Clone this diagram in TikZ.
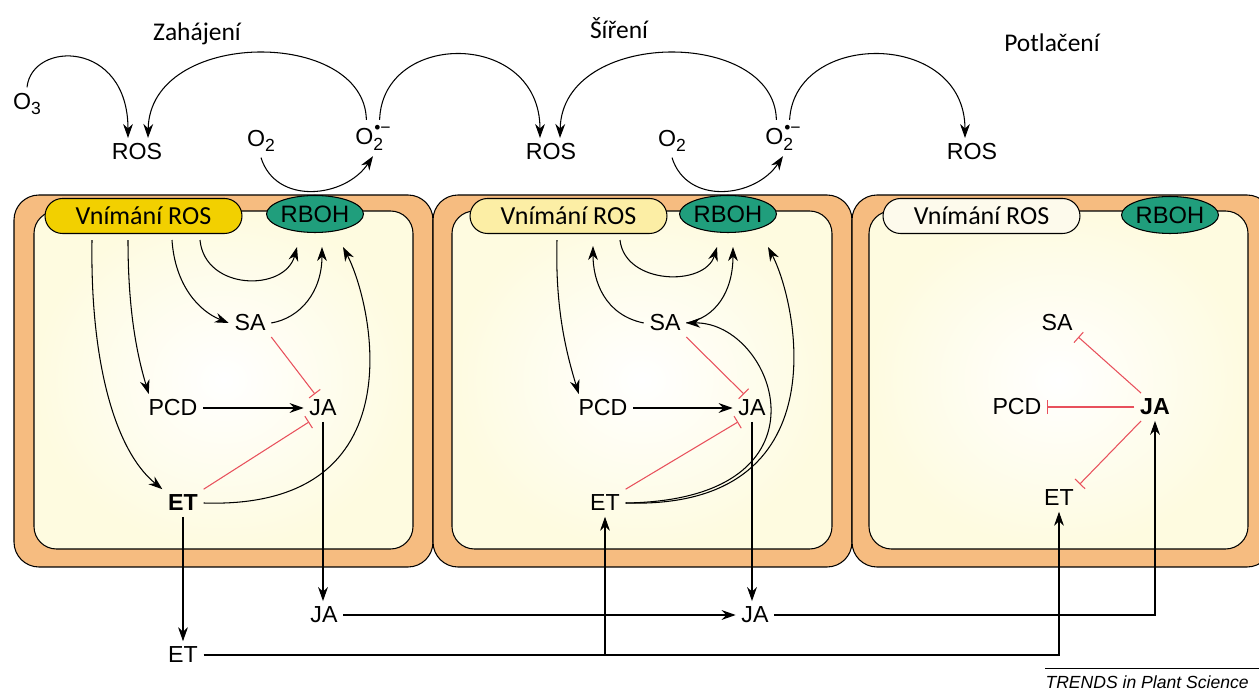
\documentclass[tikz,border=0pt]{standalone}
\usepackage{fontspec}
\setmainfont{Liberation Sans}
\newfontfamily\calfont{Carlito}
\usepackage{tikz}
\usetikzlibrary{arrows.meta,shapes.geometric}
\definecolor{wallorange}{RGB}{246,188,128}
\definecolor{cream}{RGB}{254,251,224}
\definecolor{gold}{RGB}{242,208,0}
\definecolor{paleyellow}{RGB}{252,238,165}
\definecolor{offwhite}{RGB}{253,250,236}
\definecolor{rbohgreen}{RGB}{32,158,124}
\definecolor{inhred}{RGB}{232,80,92}
\newcommand{\otwo}{O\raisebox{-0.45ex}{\fontsize{10}{10}\selectfont 2}}
\newcommand{\othree}{O\raisebox{-0.45ex}{\fontsize{10}{10}\selectfont 3}}
\newcommand{\superox}{O\rlap{\raisebox{-0.45ex}{\fontsize{10}{10}\selectfont 2}}\raisebox{0.9ex}{\fontsize{10}{10}\selectfont\kern0.5pt •−}}
\begin{document}
\begin{tikzpicture}[x=0.02cm,y=-0.02cm,>={Stealth[length=8pt,width=5.6pt]},line width=0.6pt,
 lab/.style={font=\fontsize{13.2}{15}\selectfont,inner sep=3pt},
 phase/.style={font=\calfont\fontsize{14.5}{16}\selectfont},
 recep/.style={draw,rounded corners=0.35cm,minimum width=3.94cm,minimum height=0.7cm,inner sep=0pt,font=\calfont\fontsize{14.8}{16}\selectfont},
 rboh/.style={ellipse,draw,fill=rbohgreen,minimum width=1.74cm,minimum height=0.74cm,inner sep=0pt,font=\fontsize{13.5}{15}\selectfont},
 inh/.style={draw=inhred,-{Bar[width=8pt]}}]
\useasboundingbox (0,0) rectangle (1259,692);
\clip (0,0) rectangle (1259,692);

%Cells
\draw[fill=wallorange,rounded corners=0.5cm] (14,195) rectangle (433,567); \shadedraw[inner color=white,outer color=cream,rounded corners=0.45cm] (34,211) rectangle (413,549);
\draw[fill=wallorange,rounded corners=0.5cm] (433,195) rectangle (852,567); \shadedraw[inner color=white,outer color=cream,rounded corners=0.45cm] (452,211) rectangle (832,549);
\draw[fill=wallorange,rounded corners=0.5cm] (852,195) rectangle (1272,567); \shadedraw[inner color=white,outer color=cream,rounded corners=0.45cm] (869,211) rectangle (1248,549);

\node[recep,fill=gold] (recA) at (143.5,216) {Vnímání ROS}; \node[rboh] (rbohA) at (315,214) {RBOH};
\node[recep,fill=paleyellow] (recB) at (568.5,216) {Vnímání ROS}; \node[rboh] (rbohB) at (728,214) {RBOH};
\node[recep,fill=offwhite] (recC) at (981.5,216) {Vnímání ROS}; \node[rboh] (rbohC) at (1170,215) {RBOH};

%Top
\node[phase] (zah) at (197,34) {Zahájení}; \node[phase] (sir) at (619,28) {Šíření}; \node[phase] (pot) at (1052,43) {Potlačení};
\node[lab] (othr) at (27,104) {\othree};
\node[lab] (rosA) at (137,152) {ROS}; \node[lab] (rosB) at (551,152) {ROS}; \node[lab] (rosC) at (972,152) {ROS};
\node[lab] (otwoA) at (261,141) {\otwo}; \node[lab] (supA) at (373,138) {\superox};
\node[lab] (otwoB) at (672,141) {\otwo}; \node[lab] (supB) at (783,138) {\superox};

\draw[->] (othr.north) .. controls +(5,-47) and +(0,-98) .. ([xshift=-0.18cm]rosA.north);
\draw[->] (supA.110) .. controls +(-2,-92) and +(2,-110) .. ([xshift=0.22cm]rosA.north);
\draw[->] (supA.70) .. controls +(3,-90) and +(0,-108) .. ([xshift=-0.22cm]rosB.north);
\draw[->] (supB.110) .. controls +(-2,-92) and +(2,-110) .. ([xshift=0.18cm]rosB.north);
\draw[->] (supB.70) .. controls +(5,-90) and +(0,-108) .. ([xshift=-0.14cm]rosC.north);
\draw[->] (otwoA.south) .. controls +(15,48) and +(-28,42) .. (supA.south);
\draw[->] (otwoB.south) .. controls +(15,48) and +(-28,42) .. (supB.south);

%First cell
\node[lab] (saA) at (250,323) {SA}; \node[lab] (pcdA) at (173,408) {PCD}; \node[lab] (jaA) at (323,408) {JA}; \node[lab] (etA) at (183,503) {\textbf{ET}};
\draw[->] ([xshift=-1.03cm,yshift=-0.12cm]recA.south) .. controls +(-2,120) and +(-48,-39) .. (etA.north west);
\draw[->] ([xshift=-0.31cm,yshift=-0.12cm]recA.south) .. controls +(0,70) and +(-12,-40) .. (pcdA.150);
\draw[->] ([xshift=0.57cm,yshift=-0.12cm]recA.south) .. controls +(3,45) and +(-30,-12) .. (saA.west);
\draw[->] ([xshift=1.13cm,yshift=-0.12cm]recA.south) .. controls +(5,51) and +(-12,45) .. ([xshift=-0.36cm,yshift=-0.28cm]rbohA.south);
\draw[->] (saA.east) .. controls +(29,-5) and +(0,45) .. ([xshift=0.14cm,yshift=-0.28cm]rbohA.south);
\draw[->] (etA.east) .. controls +(217,7) and +(29,55) .. ([xshift=0.56cm,yshift=-0.28cm]rbohA.south);
\draw[->] (pcdA.east) -- (jaA.west);
\draw[inh] (saA.south east) -- (jaA.120); \draw[inh] (etA.north east) -- (jaA.225);

%Second cell
\node[lab] (saB) at (665,323) {SA}; \node[lab] (pcdB) at (603,408) {PCD}; \node[lab] (jaB) at (752,408) {JA}; \node[lab] (etB) at (605,503) {ET};
\draw[->] ([xshift=-0.23cm,yshift=-0.12cm]recB.south) .. controls +(-2,70) and +(-12,-40) .. (pcdB.150);
\draw[->] ([xshift=1.03cm,yshift=-0.12cm]recB.south) .. controls +(5,45) and +(-12,40) .. ([xshift=-0.22cm,yshift=-0.28cm]rbohB.south);
\draw[->] (saB.west) .. controls +(-39,-8) and +(0,35) .. ([xshift=0.49cm,yshift=-0.24cm]recB.south);
\draw[->] (saB.east) .. controls +(29,-5) and +(0,45) .. ([xshift=0.1cm,yshift=-0.28cm]rbohB.south);
\draw[->] (etB.east) .. controls +(217,7) and +(29,55) .. ([xshift=0.8cm,yshift=-0.28cm]rbohB.south);
\draw[->] (etB.east) .. controls +(215,-3) and +(89,-1) .. (saB.east);
\draw[->] (pcdB.east) -- (jaB.west);
\draw[inh] (saB.south east) -- (jaB.120); \draw[inh] (etB.north east) -- (jaB.225);

%Third cell
\node[lab] (saC) at (1057,323) {SA}; \node[lab] (pcdC) at (1017,407) {PCD}; \node[lab] (jaC) at (1155,407) {\textbf{JA}}; \node[lab] (etC) at (1059,498) {ET};
\draw[inh] (jaC.135) -- (saC.south east); \draw[inh] (jaC.west) -- (pcdC.east); \draw[inh] (jaC.225) -- (etC.north east);

%Bottom
\node[lab] (jaX) at (324,615) {JA}; \node[lab] (jaY) at (755,615) {JA}; \node[lab] (etX) at (183,655) {ET};
\draw[->] (jaA.south) -- (jaA.south |- jaX.north); \draw[->] (jaB.south) -- (jaB.south |- jaY.north);
\draw[->] (etA.south) -- (etX.north);
\draw[->] (jaX.east) -- (jaY.west); \draw[->] (jaY.east) -| (jaC.south);
\draw[->] (etX.east) -| (etC.south); \draw[->] (etX.east -| etB.south) -- (etB.south);

\node[anchor=west,inner sep=0pt,font=\itshape\fontsize{10}{12}\selectfont] (trends) at (1045,682) {TRENDS in Plant Science};
\draw[line width=0.5pt] ([yshift=0.13cm]trends.north west) -- ([yshift=0.13cm,xshift=1cm]trends.north east);
\end{tikzpicture}
\end{document}
